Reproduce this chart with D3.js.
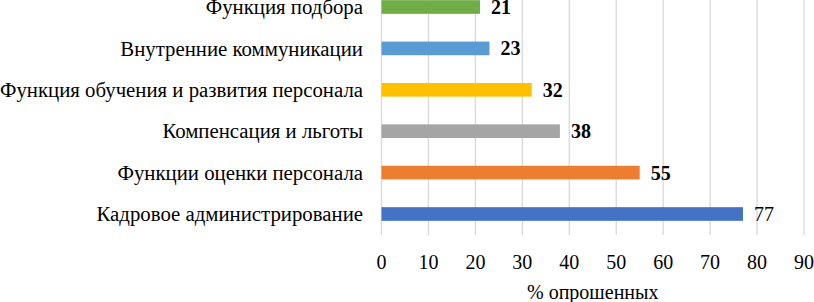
<!DOCTYPE html>
<html><head><meta charset="utf-8">
<script src="https://cdn.jsdelivr.net/npm/d3@7"></script>
<style>body{margin:0;background:#fff}svg{display:block}text{font-family:"Liberation Serif","Times New Roman",serif}</style>
</head><body><svg id="c" width="814" height="302"></svg>
<script>
const categories = ["Функция подбора","Внутренние коммуникации","Функция обучения и развития персонала","Компенсация и льготы","Функции оценки персонала","Кадровое администрирование"];
const values = [21,23,32,38,55,77];
const colors = ["#70AD47","#5B9BD5","#FFC000","#A5A5A5","#ED7D31","#4472C4"];
const ticks = [0,10,20,30,40,50,60,70,80,90];
const axisTitle = "% опрошенных";

const svg = d3.select("#c");
const x = d3.scaleLinear().domain([0,90]).range([381.5,804]);
const y = d3.scaleBand().domain(categories).range([-13.7,234.7]).paddingInner(0.67).paddingOuter(0.335);

svg.append("g").selectAll("line").data(ticks).join("line")
  .attr("x1",d=>x(d)).attr("x2",d=>x(d)).attr("y1",0).attr("y2",235)
  .attr("stroke","#D9D9D9").attr("stroke-width",1.3);

svg.append("g").selectAll("rect").data(values).join("rect")
  .attr("x",x(0)).attr("y",(d,i)=>y(categories[i]))
  .attr("width",d=>x(d)-x(0)).attr("height",y.bandwidth())
  .attr("fill",(d,i)=>colors[i]);

svg.append("g").selectAll("text").data(categories).join("text")
  .attr("x",363).attr("y",d=>y(d)+y.bandwidth()/2).attr("dy","0.35em")
  .attr("text-anchor","end").attr("font-size",20.8).attr("fill","#000").text(d=>d);

svg.append("g").selectAll("text").data(values).join("text")
  .attr("x",d=>x(d)+11).attr("y",(d,i)=>y(categories[i])+y.bandwidth()/2).attr("dy","0.35em")
  .attr("font-size",20).attr("font-weight",(d,i)=>i===5?"normal":"bold").attr("fill","#000").text(d=>d);

svg.append("g").selectAll("text").data(ticks).join("text")
  .attr("x",d=>x(d)).attr("y",269).attr("text-anchor","middle")
  .attr("font-size",20).attr("fill","#000").text(d=>d);

svg.append("text").attr("x",x(45)).attr("y",299).attr("text-anchor","middle")
  .attr("font-size",20).attr("fill","#000").text(axisTitle);
</script></body></html>
